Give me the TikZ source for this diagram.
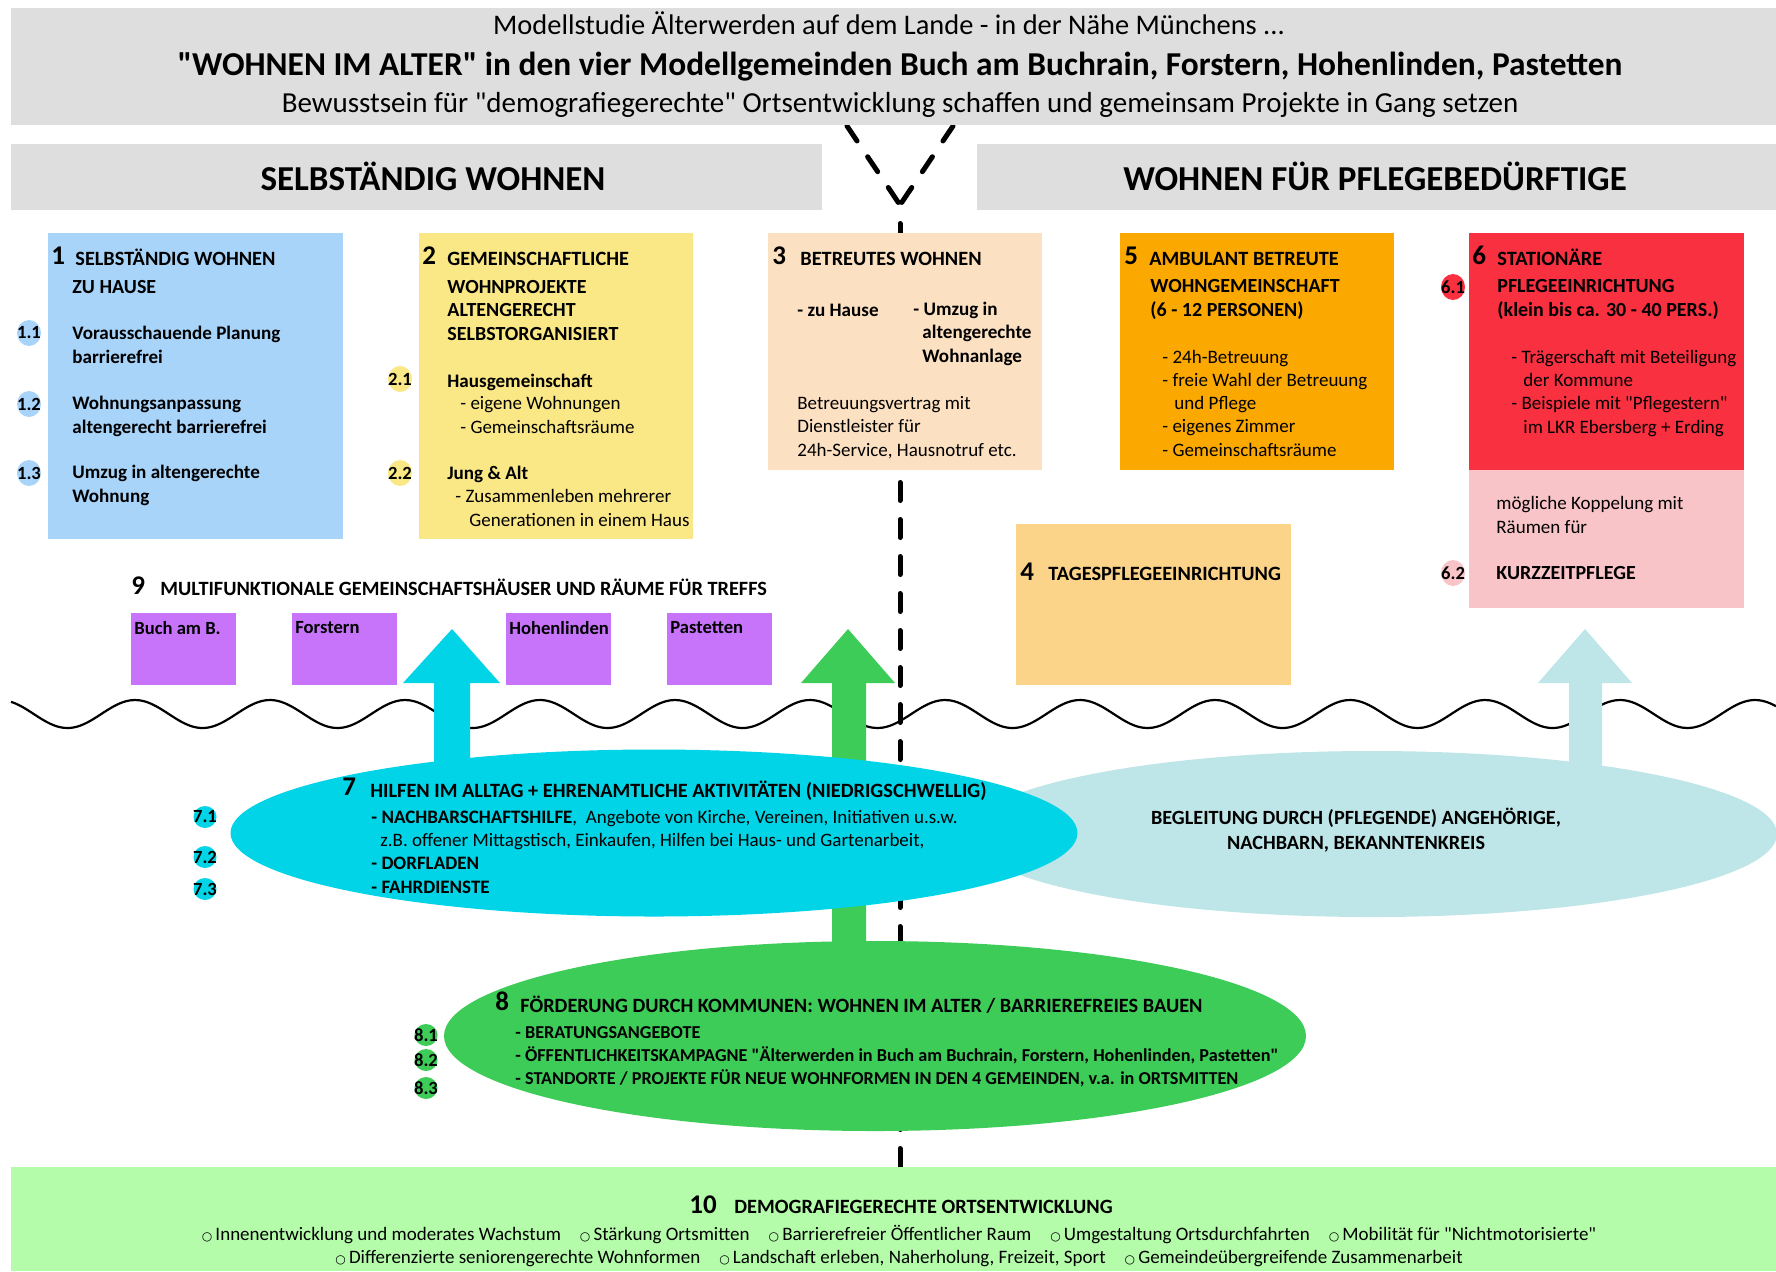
\documentclass[tikz,border=0pt]{standalone}
\usepackage{fontspec}
\setmainfont{Carlito}
\newfontfamily\bulletfont{DejaVu Sans}
\usepackage{tikz}
\usetikzlibrary{shapes.geometric}

\definecolor{bannerGray}{HTML}{DEDEDE}
\definecolor{selbstBlue}{HTML}{A8D4FA}
\definecolor{gemYellow}{HTML}{FAE785}
\definecolor{betreutPeach}{HTML}{FCE0C2}
\definecolor{ambOrange}{HTML}{FBA800}
\definecolor{statRed}{HTML}{F93040}
\definecolor{kurzPink}{HTML}{F9C4C8}
\definecolor{tagesOrange}{HTML}{FBD489}
\definecolor{treffPurple}{HTML}{C774FB}
\definecolor{hilfeCyan}{HTML}{00D4E6}
\definecolor{angehTeal}{HTML}{BEE5E7}
\definecolor{kommGreen}{HTML}{3ECC58}
\definecolor{ortGreen}{HTML}{B4FCAA}

\newcommand{\bul}{{\bulletfont\fontsize{6}{6}\selectfont ○}\,}
\newcommand{\q}{\textquotedbl}

\tikzset{%
  % Specifications for style of areas:
          base/.style = {rectangle, inner sep=0pt, anchor=north west},
        banner/.style = {base, fill=bannerGray},
         treff/.style = {base, fill=treffPurple, minimum width=52.5pt,
                         minimum height=36pt},
          blob/.style = {ellipse, inner sep=0pt},
         badge/.style = {ellipse, inner sep=0pt, minimum width=12pt,
                         minimum height=13pt,
                         font=\bfseries\fontsize{9.3}{9.5}\selectfont},
    smallBadge/.style = {badge, minimum width=11.5pt, minimum height=11pt},
  % Specifications for style of lines:
         guide/.style = {line width=2.5pt, line cap=round,
                         dash pattern=on 9pt off 9.5pt},
          wave/.style = {line width=1.1pt},
  % Specifications for style of texts (base = last line):
       headTxt/.style = {anchor=base, inner sep=0pt,
                         font=\fontsize{14.2}{17}\selectfont},
      headBold/.style = {anchor=base, inner sep=0pt,
                         font=\bfseries\fontsize{16.7}{19}\selectfont},
       sectTxt/.style = {anchor=base, inner sep=0pt,
                         font=\bfseries\fontsize{17.5}{20}\selectfont},
        numTxt/.style = {anchor=base west, inner sep=0pt,
                         font=\bfseries\fontsize{13.5}{15}\selectfont},
        capTxt/.style = {anchor=base west, inner sep=0pt,
                         font=\bfseries\fontsize{10.15}{11.75}\selectfont},
      titleTxt/.style = {anchor=base west, inner sep=0pt, align=left,
                         font=\bfseries\fontsize{10}{11.75}\selectfont},
      itemBold/.style = {anchor=base west, inner sep=0pt, align=left,
                         font=\bfseries\fontsize{9.55}{11.6}\selectfont},
       itemTxt/.style = {anchor=base west, inner sep=0pt, align=left,
                         font=\fontsize{9.5}{11.6}\selectfont},
      treffTxt/.style = {anchor=north west, inner xsep=1.5pt, inner ysep=4pt,
                         font=\bfseries\fontsize{9.3}{11}\selectfont},
}

\begin{document}
\begin{tikzpicture}[x=0.5pt, y=-0.5pt]
  \useasboundingbox (0,0) rectangle (1776,1271);

  % Wave line and dashed guide
  \draw[wave] plot[domain=11:1776, samples=400, smooth]
    (\x, {714-14*cos(\x/135*360)});
  \coordinate (forkL) at (847,126);
  \coordinate (forkR) at (953,126);
  \coordinate (forkM) at (900,205);
  \coordinate (guideEnd) at (900,1167);
  \draw[guide] (forkL) -- (forkM);
  \draw[guide] (forkR) -- (forkM);
  \draw[guide, dash phase=9.25pt] (forkM) -- (guideEnd);

  % Specification of areas (position, size)
  \node (head)       [banner, minimum width=882.5pt, minimum height=58.5pt] at (11,8) {};
  \node (selbstHead) [banner, minimum width=405.5pt, minimum height=33pt] at (11,144) {};
  \node (pflegeHead) [banner, minimum width=399.5pt, minimum height=33pt] at (977,144) {};
  \node (box1)  [base, fill=selbstBlue, minimum width=147.5pt, minimum height=153pt] at (48,233) {};
  \node (box2)  [base, fill=gemYellow, minimum width=137pt, minimum height=153pt] at (419,233) {};
  \node (box3)  [base, fill=betreutPeach, minimum width=137pt, minimum height=118.5pt] at (768,233) {};
  \node (box5)  [base, fill=ambOrange, minimum width=137pt, minimum height=118.5pt] at (1120,233) {};
  \node (box6)  [base, fill=statRed, minimum width=137.5pt, minimum height=118.5pt] at (1469,233) {};
  \node (box6b) [base, fill=kurzPink, minimum width=137.5pt, minimum height=69pt] at (1469,470) {};
  \node (box4)  [base, fill=tagesOrange, minimum width=137.5pt, minimum height=80.5pt] at (1016,524) {};
  \node (buch)  [treff] at (131,613) {};
  \node (forst) [treff] at (292,613) {};
  \node (hohen) [treff] at (506,613) {};
  \node (paste) [treff] at (667,613) {};
  \node (ortBox) [base, fill=ortGreen, minimum width=882.5pt, minimum height=52pt] at (11,1167) {};

  % Ellipses with the block arrows
  \node (angeh) [blob, fill=angehTeal, minimum width=405pt, minimum height=83pt] at (1372,834) {};
  \coordinate (tipTeal) at (1585,629);
  \fill[angehTeal] (tipTeal) -- ++(47,54) -- ++(-30,0) -- ++(0,110) -- ++(-33,0)
    -- ++(0,-110) -- ++(-31,0) -- cycle;
  \coordinate (tipGreen) at (848,629);
  \fill[kommGreen] (tipGreen) -- ++(47,54) -- ++(-29,0) -- ++(0,290) -- ++(-34,0)
    -- ++(0,-290) -- ++(-31,0) -- cycle;
  \node (hilfe) [blob, fill=hilfeCyan, minimum width=423.5pt, minimum height=83.5pt] at (654,833) {};
  \coordinate (tipCyan) at (452,629);
  \fill[hilfeCyan] (tipCyan) -- ++(48,54) -- ++(-30,0) -- ++(0,110) -- ++(-36,0)
    -- ++(0,-110) -- ++(-31,0) -- cycle;
  \node (komm) [blob, fill=kommGreen, minimum width=431pt, minimum height=95pt] at (875,1036) {};

  % Title banner and section heads
  \node (headLine1) [headTxt] at (889,34) {Modellstudie Älterwerden auf dem Lande - in der Nähe Münchens ...};
  \node (headLine2) [headBold] at (900,75) {\q WOHNEN IM ALTER\q{} in den vier Modellgemeinden Buch am Buchrain, Forstern, Hohenlinden, Pastetten};
  \node (headLine3) [headTxt, font=\fontsize{14.5}{17}\selectfont] at (900,112) {Bewusstsein für \q demografiegerechte\q{} Ortsentwicklung schaffen und gemeinsam Projekte in Gang setzen};
  \node (selbstTxt) [sectTxt] at (433,190) {SELBSTÄNDIG WOHNEN};
  \node (pflegeTxt) [sectTxt] at (1375,190) {WOHNEN FÜR PFLEGEBEDÜRFTIGE};

  % Box 1
  \node (num1)   [numTxt] at (51,264) {1};
  \node (cap1)   [capTxt] at (75,265) {SELBSTÄNDIG WOHNEN};
  \node (title1) [titleTxt] at (72,293) {ZU HAUSE};
  \node (item11) [itemBold] at (72,363) {Vorausschauende Planung\\barrierefrei};
  \node (item12) [itemBold] at (72,433) {Wohnungsanpassung\\altengerecht barrierefrei};
  \node (item13) [itemBold] at (72,502) {Umzug in altengerechte\\Wohnung};

  % Box 2
  \node (num2)    [numTxt] at (422,264) {2};
  \node (cap2)    [capTxt] at (447,265) {GEMEINSCHAFTLICHE};
  \node (title2)  [titleTxt] at (447,340) {WOHNPROJEKTE\\ALTENGERECHT\\SELBSTORGANISIERT};
  \node (item21)  [itemBold] at (447,387) {Hausgemeinschaft};
  \node (item21a) [itemTxt] at (460,433) {- eigene Wohnungen\\- Gemeinschaftsräume};
  \node (item22)  [itemBold] at (447,479) {Jung \& Alt};
  \node (item22a) [itemTxt] at (455,526) {- Zusammenleben mehrerer\\\hspace*{7pt}Generationen in einem Haus};

  % Box 3
  \node (num3)   [numTxt] at (772,264) {3};
  \node (cap3)   [capTxt] at (800,265) {BETREUTES WOHNEN};
  \node (item31) [itemBold] at (797,316) {- zu Hause};
  \node (item32) [itemBold] at (913,362) {- Umzug in\\\hspace*{4.5pt}altengerechte\\\hspace*{4.5pt}Wohnanlage};
  \node (item33) [itemTxt] at (797,456) {Betreuungsvertrag mit\\Dienstleister für\\24h-Service, Hausnotruf etc.};

  % Box 5
  \node (num5)   [numTxt] at (1124,264) {5};
  \node (cap5)   [capTxt] at (1149,265) {AMBULANT BETREUTE};
  \node (title5) [titleTxt] at (1150,316) {WOHNGEMEINSCHAFT\\(6 - 12 PERSONEN)};
  \node (item5)  [itemTxt] at (1162,456) {- 24h-Betreuung\\- freie Wahl der Betreuung\\\hspace*{6pt}und Pflege\\- eigenes Zimmer\\- Gemeinschaftsräume};

  % Box 6
  \node (num6)   [numTxt] at (1472,264) {6};
  \node (cap6)   [capTxt] at (1497,265) {STATIONÄRE};
  \node (title6) [titleTxt] at (1497,316) {PFLEGEEINRICHTUNG\\(klein bis ca. 30 - 40 PERS.)};
  \node (item6)  [itemTxt] at (1511,433) {- Trägerschaft mit Beteiligung\\\hspace*{6pt}der Kommune\\- Beispiele mit \q Pflegestern\q\\\hspace*{6pt}im LKR Ebersberg + Erding};
  \node (koppel) [itemTxt] at (1496,533) {mögliche Koppelung mit\\Räumen für};
  \node (kurz)   [titleTxt] at (1496,579) {KURZZEITPFLEGE};

  % Box 4
  \node (num4) [numTxt] at (1020,580) {4};
  \node (cap4) [capTxt] at (1048,580) {TAGESPFLEGEEINRICHTUNG};

  % Treffs 9
  \node (num9) [numTxt] at (131,594) {9};
  \node (cap9) [capTxt] at (160,595) {MULTIFUNKTIONALE GEMEINSCHAFTSHÄUSER UND RÄUME FÜR TREFFS};
  \node (buchTxt)  [treffTxt] at (buch.north west) {Buch am B.};
  \node (forstTxt) [treffTxt] at (forst.north west) {Forstern};
  \node (hohenTxt) [treffTxt] at (hohen.north west) {Hohenlinden};
  \node (pasteTxt) [treffTxt] at (paste.north west) {Pastetten};

  % Ellipse 7 and relatives
  \node (num7) [numTxt] at (342,795) {7};
  \node (cap7) [capTxt] at (370,797) {HILFEN IM ALLTAG + EHRENAMTLICHE AKTIVITÄTEN (NIEDRIGSCHWELLIG)};
  \node (hilfeList) [itemTxt, font=\fontsize{9.5}{11.65}\selectfont] at (371,893)
    {\textbf{- NACHBARSCHAFTSHILFE},\ \ Angebote von Kirche, Vereinen, Initiativen u.s.w.\\
     \hspace*{4.5pt}z.B. offener Mittagstisch, Einkaufen, Hilfen bei Haus- und Gartenarbeit,\\
     \textbf{- DORFLADEN}\\\textbf{- FAHRDIENSTE}};
  \node (angehTxt) [anchor=base, inner sep=0pt, align=center,
    font=\bfseries\fontsize{10.1}{12.5}\selectfont] at (1356,849)
    {BEGLEITUNG DURCH (PFLEGENDE) ANGEHÖRIGE,\\NACHBARN, BEKANNTENKREIS};

  % Ellipse 8
  \node (num8) [numTxt] at (495,1010) {8};
  \node (cap8) [capTxt] at (520,1012) {FÖRDERUNG DURCH KOMMUNEN: WOHNEN IM ALTER / BARRIEREFREIES BAUEN};
  \node (kommList) [itemBold, font=\bfseries\fontsize{9.1}{11.5}\selectfont] at (515,1084)
    {- BERATUNGSANGEBOTE\\
     - ÖFFENTLICHKEITSKAMPAGNE \q Älterwerden in Buch am Buchrain, Forstern, Hohenlinden, Pastetten\q\\
     - STANDORTE / PROJEKTE FÜR NEUE WOHNFORMEN IN DEN 4 GEMEINDEN, v.a. in ORTSMITTEN};

  % Box 10
  \node (num10) [numTxt] at (689,1213) {10};
  \node (cap10) [capTxt] at (734,1213) {DEMOGRAFIEGERECHTE ORTSENTWICKLUNG};
  \node (ortList) [anchor=base, inner sep=0pt, align=center,
    font=\fontsize{9.5}{11.5}\selectfont] at (899,1263)
    {\bul Innenentwicklung und moderates Wachstum\quad \bul Stärkung Ortsmitten\quad
     \bul Barrierefreier Öffentlicher Raum\quad \bul Umgestaltung Ortsdurchfahrten\quad
     \bul Mobilität für \q Nichtmotorisierte\q\\
     \bul Differenzierte seniorengerechte Wohnformen\quad
     \bul Landschaft erleben, Naherholung, Freizeit, Sport\quad
     \bul Gemeindeübergreifende Zusammenarbeit};

  % Number badges
  \node (b11) [badge, fill=selbstBlue] at (29,333) {\makebox[0pt]{1.1}};
  \node (b12) [badge, fill=selbstBlue] at (29,404) {\makebox[0pt]{1.2}};
  \node (b13) [badge, fill=selbstBlue] at (29,473) {\makebox[0pt]{1.3}};
  \node (b21) [badge, fill=gemYellow] at (400,379) {\makebox[0pt]{2.1}};
  \node (b22) [badge, fill=gemYellow] at (400,473) {\makebox[0pt]{2.2}};
  \node (b61) [badge, fill=statRed] at (1453,287) {\makebox[0pt]{6.1}};
  \node (b62) [badge, fill=kurzPink] at (1453,573) {\makebox[0pt]{6.2}};
  \node (b71) [smallBadge, fill=hilfeCyan] at (205,817) {\makebox[0pt]{7.1}};
  \node (b72) [smallBadge, fill=hilfeCyan] at (205,857) {\makebox[0pt]{7.2}};
  \node (b73) [smallBadge, fill=hilfeCyan] at (205,889) {\makebox[0pt]{7.3}};
  \node (b81) [smallBadge, fill=kommGreen] at (426,1035) {\makebox[0pt]{8.1}};
  \node (b82) [smallBadge, fill=kommGreen] at (426,1060) {\makebox[0pt]{8.2}};
  \node (b83) [smallBadge, fill=kommGreen] at (426,1088) {\makebox[0pt]{8.3}};
\end{tikzpicture}
\end{document}
